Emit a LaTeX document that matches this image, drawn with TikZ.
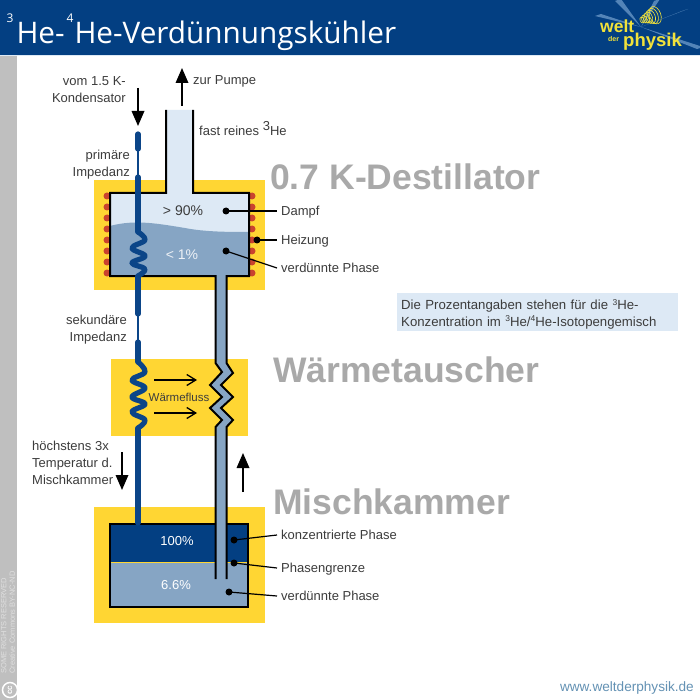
\documentclass[tikz,border=0pt]{standalone}
\usepackage{fontspec}
\setmainfont{Liberation Sans}
\newfontfamily\titlefont{Open Sans}
\usetikzlibrary{arrows.meta, positioning, calc}
\definecolor{cnavy}{HTML}{033F82}
\definecolor{cpipe}{HTML}{0B4588}
\definecolor{cyell}{HTML}{FFD633}
\definecolor{clight}{HTML}{DDE9F5}
\definecolor{cliquid}{HTML}{86A5C4}
\definecolor{cheat}{HTML}{C9432F}
\definecolor{chead}{HTML}{A9A9A9}
\definecolor{ctext}{HTML}{3C3C3C}
\definecolor{cstrip}{HTML}{BFBFBF}
\definecolor{curl}{HTML}{6492B4}
\definecolor{clogo}{HTML}{F2E23A}
\definecolor{cray}{HTML}{6F9CCB}
\newcommand{\titlesup}[1]{\raisebox{21pt}{\fontsize{12}{12}\selectfont #1}}
\newcommand{\infosup}[1]{\raisebox{4.5pt}{\fontsize{8.5}{8.5}\selectfont #1}}
\tikzset{
  every picture/.style={x=1pt, y=-1pt, line join=miter},
  label/.style={font=\fontsize{13}{17}\selectfont, text=ctext, inner sep=0pt},
  note/.style={label, align=right},
  pointer/.style={label, anchor=west, text height=10.5pt, text depth=1.5pt},
  head/.style={font=\fontsize{35.5}{38}\selectfont\bfseries, text=chead, inner sep=0pt, anchor=west},
  pct/.style={font=\fontsize{#1}{15}\selectfont, inner sep=0pt},
  pct/.default=13,
  flow/.style={-{Triangle[length=15pt, width=12.5pt]}, line width=1.8pt},
  heatflow/.style={-{Straight Barb[length=9pt, width=11pt]}, line width=1.3pt},
  wall/.style={line width=2pt, draw=black},
  pipe/.style={draw=cpipe, line width=#1},
  pipe/.default=5.2pt,
  coil/.style={pipe, line join=round},
  dot/.style={circle, fill=black, inner sep=0pt, minimum size=7pt},
  lead/.style={line width=1.2pt},
  heater/.style={circle, fill=cheat, inner sep=0pt, minimum size=7pt},
  logotext/.style={anchor=base west, text=clogo, inner sep=0pt, font=\fontsize{#1}{#1}\selectfont\bfseries},
}
\begin{document}
\begin{tikzpicture}
  \useasboundingbox (0,0) rectangle (700,700);
  \fill[white] (0,0) rectangle (700,700);
  % header and margin strip
  \fill[cstrip] (0,56) rectangle (17,700);
  \fill[cnavy] (0,0) rectangle (700,55);
  \fill[clight] (0,55) rectangle (700,56.5);
  \node[anchor=base west, text=white, inner sep=0pt, font=\titlefont\fontsize{29.7}{32}\selectfont] (title) at (6.5,44)
    {\titlesup{3}\hspace{3pt}He-\hspace{2pt}\titlesup{4}\hspace{1pt}He-Verdünnungskühler};
  % logo
  \foreach \tx/\ty in {618/0, 657/0, 598/15, 685/10, 700/48}
    \fill[cray, opacity=0.75] (641,27) -- (\tx-3,\ty+1) -- (\tx+3,\ty-1) -- cycle;
  \foreach \i in {0,...,6}
    \draw[clogo, line width=0.6pt, rotate around={20:(642+\i*2.2,20-\i*0.8)}] (642+\i*2.2,20-\i*0.8) ellipse ({2+\i*0.6} and {3+\i*1.0});
  \node[logotext=17.5] (welt) at (600,33) {welt};
  \node[logotext=7] (der) at (608,42) {der};
  \node[logotext=18.5] (physik) at (623,47) {physik};
  % licence strip
  \node[rotate=90, anchor=north west, text=white!88!black, inner sep=0pt, font=\fontsize{7.5}{8.5}\selectfont, align=left] (rights) at (1,674) {SOME RIGHTS RESERVED\\Creative Commons BY-NC-ND};
  \node[circle, draw=white, fill=cstrip, line width=1.5pt, minimum size=15pt, inner sep=0pt, text=white, font=\fontsize{8}{8}\selectfont\bfseries, rotate=90] (cc) at (10,690) {cc};
  \node[anchor=base east, text=curl, inner sep=0pt, font=\fontsize{13.6}{15}\selectfont] (url) at (694,691) {www.weltderphysik.de};
  % yellow blocks
  \fill[cyell] (94,180) rectangle (265,290);
  \fill[cyell] (111,359) rectangle (248,436);
  \fill[cyell] (94,507) rectangle (265,623);
  % heater coil
  \foreach \y in {196,207,218,229,240,251,262,273} {
    \node[heater] (hl\y) at (107,\y) {};
    \node[heater] (hr\y) at (252,\y) {};
  }
  % distiller
  \fill[clight] (110,193) -- (166,193) -- (166,110) -- (193,110) -- (193,193) -- (249,193) -- (249,276) -- (110,276) -- cycle;
  \fill[cliquid] (110,226) .. controls (135,219) and (160,224) .. (185,228) .. controls (205,232) and (230,232) .. (249,232) -- (249,276) -- (110,276) -- cycle;
  % outlet tube with counterflow section
  \fill[cliquid] (215.5,276) -- (215.5,363) -- (222,372) -- (210,385) -- (222,397) -- (210,408) -- (222,420) -- (215.5,427) -- (215.5,579) -- (226.5,579)
     -- (226.5,427) -- (233,420) -- (221,408) -- (233,397) -- (221,385) -- (233,373) -- (226.5,363) -- (226.5,276) -- cycle;
  \fill[cnavy] (110,524) rectangle (248,562);
  \fill[cliquid] (110,562) rectangle (248,607);
  \fill[cyell] (110,561.5) rectangle (248,563);
  \fill[cliquid] (215.5,507) rectangle (226.5,579);
  \draw[wall] (166,110) -- (166,193) -- (110,193) -- (110,276) -- (215.5,276) -- (215.5,363) -- (222,372) -- (210,385) -- (222,397) -- (210,408) -- (222,420) -- (215.5,427) -- (215.5,579);
  \draw[wall] (193,110) -- (193,193) -- (249,193) -- (249,276) -- (226.5,276) -- (226.5,363) -- (233,373) -- (221,385) -- (233,397) -- (221,408) -- (233,420) -- (226.5,427) -- (226.5,579);
  \draw[wall] (215.5,524) -- (110,524) -- (110,607) -- (248,607) -- (248,524) -- (226.5,524);
  % helium pipe with impedances
  \draw[pipe, line cap=round] (138,134) -- (138,149);
  \draw[pipe=1.8pt] (138,149) -- (138,176);
  \draw[pipe, line cap=round] (138,177) -- (138,232);
  \draw[pipe, line cap=round] (138,276) -- (138,314);
  \draw[pipe=1.8pt] (138,314) -- (138,341);
  \draw[pipe, line cap=round] (138,342) -- (138,362);
  \draw[pipe, line cap=round] (138,428) -- (138,523);
  \draw[coil] plot[smooth, tension=0.7] coordinates {(138,232) (145,240) (132,248) (145,256) (132,263) (145,269) (138,276)};
  \draw[coil] plot[smooth, tension=0.7] coordinates {(138,362) (145,372) (132,380) (145,388) (132,397) (145,404) (132,412) (145,420) (138,428)};
  % percent values
  \node[pct=14, text=ctext] (p90) at (183,211) {> 90\%};
  \node[pct=14, text=white!85!cliquid] (p1) at (182,255) {< 1\%};
  \node[pct, text=white] (p100) at (177,541) {100\%};
  \node[pct, text=white] (p66) at (176,585) {6.6\%};
  % section headings
  \node[head] (hdest) at (270,177) {0.7 K-Destillator};
  \node[head] (hwaerm) at (273,370) {Wärmetauscher};
  \node[head] (hmisch) at (273,502) {Mischkammer};
  % flow arrows
  \coordinate (inA) at (138,88);
  \coordinate (inB) at (138,126);
  \coordinate (outA) at (182,106);
  \coordinate (outB) at (182,68);
  \coordinate (downA) at (122,452);
  \coordinate (downB) at (122,490);
  \coordinate (upA) at (243,492);
  \coordinate (upB) at (243,453);
  \coordinate (wfA) at (154,380);
  \coordinate (wfB) at (197,380);
  \coordinate (wfC) at (154,413);
  \coordinate (wfD) at (197,413);
  \draw[flow] (inA) -- (inB);
  \draw[flow] (outA) -- (outB);
  \draw[flow] (downA) -- (downB);
  \draw[flow] (upA) -- (upB);
  \draw[heatflow] (wfA) -- (wfB);
  \draw[heatflow] (wfC) -- (wfD);
  \node[label, font=\fontsize{11.5}{13}\selectfont] (wf) at (179,397) {Wärmefluss};
  % left and top labels
  \node[note, anchor=north east] (kond) at (126,76) {vom 1.5 K-\\Kondensator};
  \node[label, anchor=west] (pumpe) at (193,81) {zur Pumpe};
  \node[label, anchor=west] (rein) at (199,129) {fast reines \raisebox{5pt}{3}He};
  \node[note, anchor=north east] (prim) at (130,150) {primäre\\Impedanz};
  \node[note, anchor=north east] (sek) at (127,315) {sekundäre\\Impedanz};
  \node[note, anchor=north west, align=left] (temp) at (32,441) {höchstens 3x\\Temperatur d.\\Mischkammer};
  % pointer labels
  \foreach \n/\x/\y/\tx/\ty/\t in {
      dampf/226/211/281/211/Dampf,
      heiz/257/240/281/240/Heizung,
      verd/226/251/281/268/verdünnte Phase,
      konz/234/540/281/535/konzentrierte Phase,
      grenz/234/563/281/568/Phasengrenze,
      verdb/229/592/281/596/verdünnte Phase} {
    \node[dot] (d\n) at (\x,\y) {};
    \node[pointer] (l\n) at (\tx,\ty) {\t};
    \draw[lead] (d\n.center) -- ($(l\n.west)+(-4,0)$);
  }
  % info box
  \node[fill=clight, anchor=north west, text width=273pt, minimum height=38pt, inner xsep=4pt, inner ysep=0pt, align=left, text=ctext, font=\fontsize{13.2}{16.5}\selectfont] (info) at (397,293)
    {\rule{0pt}{14pt}Die Prozentangaben stehen für die \infosup{3}He-\\Konzentration im \infosup{3}He/\infosup{4}He-Isotopengemisch};
\end{tikzpicture}
\end{document}
